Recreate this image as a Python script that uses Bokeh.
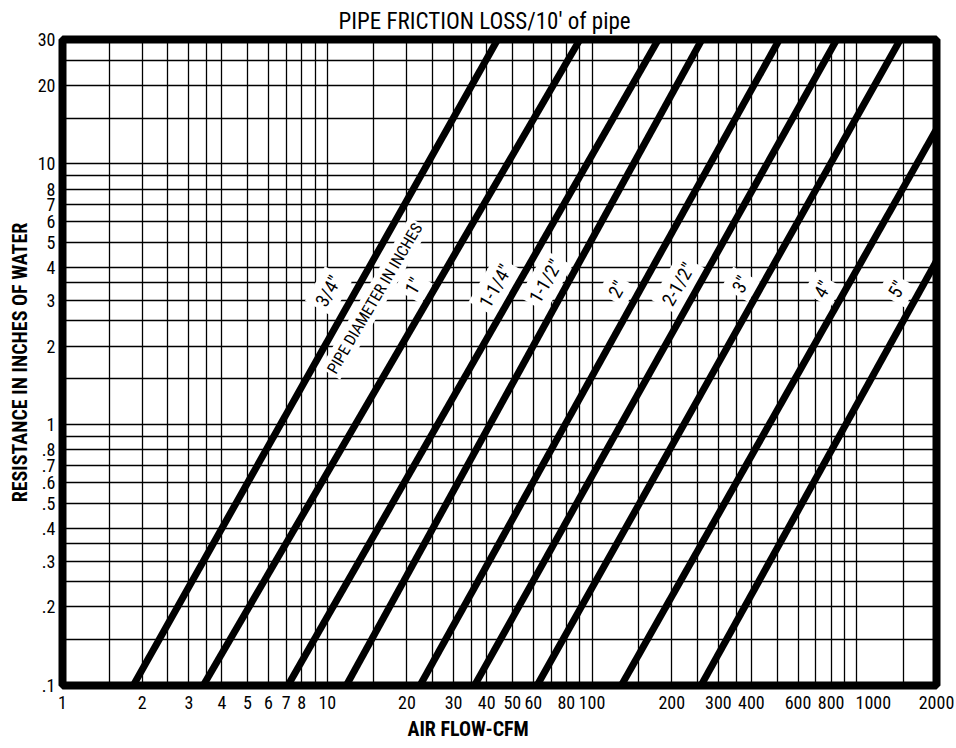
from bokeh.plotting import figure
from bokeh.models import FixedTicker, CustomJSTickFormatter, Range1d, ColumnDataSource, Title
from bokeh.embed import file_html
from bokeh.resources import INLINE
from bokeh.core.properties import value
import math

# ---- data ----
pipe_sizes = ['3/4"', '1"', '1-1/4"', '1-1/2"', '2"', '2-1/2"', '3"', '4"', '5"']
flow_start = [1.85, 3.4, 7.1, 11.8, 22.4, 36, 62, 129, 258]
res_start = [0.1, 0.1, 0.1, 0.1, 0.1, 0.1, 0.1, 0.1, 0.1]
flow_end = [44, 90, 178, 260, 510, 840, 1460, 2000, 2000]
res_end = [30, 30, 30, 30, 30, 30, 30, 13.6, 4.25]

label_flow = [10.1, 21.2, 43.2, 66.8, 124.5, 212, 365, 743, 1419]
label_res = [3.25, 3.4, 3.4, 3.55, 3.3, 3.45, 3.45, 3.3, 3.3]
note_text = ["PIPE DIAMETER IN INCHES"]
note_flow = [15.1]
note_res = [3.05]

x_ticks = [1, 2, 3, 4, 5, 6, 7, 8, 10, 20, 30, 40, 50, 60, 80, 100, 200, 300, 400, 600, 800, 1000, 2000]
y_ticks = [0.1, 0.2, 0.3, 0.4, 0.5, 0.6, 0.7, 0.8, 1, 2, 3, 4, 5, 6, 7, 8, 10, 20, 30]
x_grid = [1.5, 2, 2.5, 3, 3.5, 4, 5, 6, 7, 8, 9, 10, 15, 20, 25, 30, 35, 40, 50, 60, 70, 80, 90,
          100, 150, 200, 250, 300, 350, 400, 500, 600, 700, 800, 900, 1000, 1500]
y_grid = [0.15, 0.2, 0.25, 0.3, 0.35, 0.4, 0.5, 0.6, 0.7, 0.8, 0.9, 1, 1.5, 2, 2.5, 3, 3.5, 4,
          5, 6, 7, 8, 9, 10, 15, 20, 25]

title_text = "PIPE FRICTION LOSS/10' of pipe"
x_label = "AIR FLOW-CFM"
y_label = "RESISTANCE IN INCHES OF WATER"

FONT = "Roboto Condensed"

p = figure(x_axis_type="log", y_axis_type="log",
           x_range=Range1d(1, 2000), y_range=Range1d(0.1, 30),
           frame_width=874, frame_height=646,
           min_border_left=62, min_border_right=18, min_border_top=39, min_border_bottom=56,
           output_backend="svg", toolbar_location=None)

p.title = Title(text=title_text, align="left", offset=276, text_font=FONT,
                text_font_size="23px", text_font_style="normal", text_color="black", standoff=9)

p.outline_line_color = "black"
p.outline_line_width = 8
p.background_fill_color = "white"
p.border_fill_color = "white"

# axes
p.xaxis.ticker = FixedTicker(ticks=x_ticks)
p.yaxis.ticker = FixedTicker(ticks=y_ticks)
fmt_code = """
    var s = String(Math.round(tick * 1000) / 1000);
    if (tick < 1) { s = s.replace(/^0/, ''); }
    return s;
"""
p.yaxis.formatter = CustomJSTickFormatter(code=fmt_code)
# the original prints "1000" a little to the right of its grid line
p.xaxis.formatter = CustomJSTickFormatter(code=fmt_code.replace(
    "return s;", "if (tick == 1000) { s = '\\u00a0\\u00a0\\u00a0\\u00a0\\u00a0\\u00a0\\u00a0\\u00a0' + s; }\n    return s;"))
for ax in (p.xaxis, p.yaxis):
    ax.axis_line_color = None
    ax.major_tick_line_color = None
    ax.minor_tick_line_color = None
    ax.major_tick_out = 0
    ax.major_tick_in = 0
    ax.major_label_text_font = FONT
    ax.major_label_text_font_size = "18px"
    ax.major_label_text_color = "black"
    ax.axis_label_text_font = FONT
    ax.axis_label_text_font_style = "bold"
    ax.axis_label_text_color = "black"
p.xaxis.major_label_standoff = 6
p.yaxis.major_label_standoff = 7

p.yaxis.axis_label = y_label
p.yaxis.axis_label_text_font_size = "20px"
p.yaxis.axis_label_standoff = 3

p.add_layout(Title(text=x_label, align="left", offset=345, text_font=FONT,
                   text_font_size="20px", text_font_style="bold", text_color="black",
                   vertical_align="top", standoff=2), "below")

# grid
p.xgrid.ticker = FixedTicker(ticks=x_grid)
p.ygrid.ticker = FixedTicker(ticks=y_grid)
for g in (p.xgrid, p.ygrid):
    g.grid_line_color = "black"
    g.grid_line_width = 1.3
    g.grid_line_alpha = 1.0

# labels (white background breaking the grid)
lab_src = ColumnDataSource(dict(x=label_flow, y=label_res, t=pipe_sizes))
p.text(x="x", y="y", text="t", source=lab_src, angle=math.radians(60),
       text_font=value(FONT), text_font_size="19px", text_color="black",
       text_align="center", text_baseline="middle",
       background_fill_color="white", padding=4)
note_src = ColumnDataSource(dict(x=note_flow, y=note_res, t=note_text))
p.text(x="x", y="y", text="t", source=note_src, angle=math.radians(59.5),
       text_font=value(FONT), text_font_size="16px", text_color="black",
       text_align="center", text_baseline="middle",
       background_fill_color="white", padding=2)

# pipe lines
for i in range(len(pipe_sizes)):
    p.line([flow_start[i], flow_end[i]], [res_start[i], res_end[i]],
           line_color="black", line_width=7, line_cap="butt")

open("out.html", "w").write(file_html(p, INLINE))
